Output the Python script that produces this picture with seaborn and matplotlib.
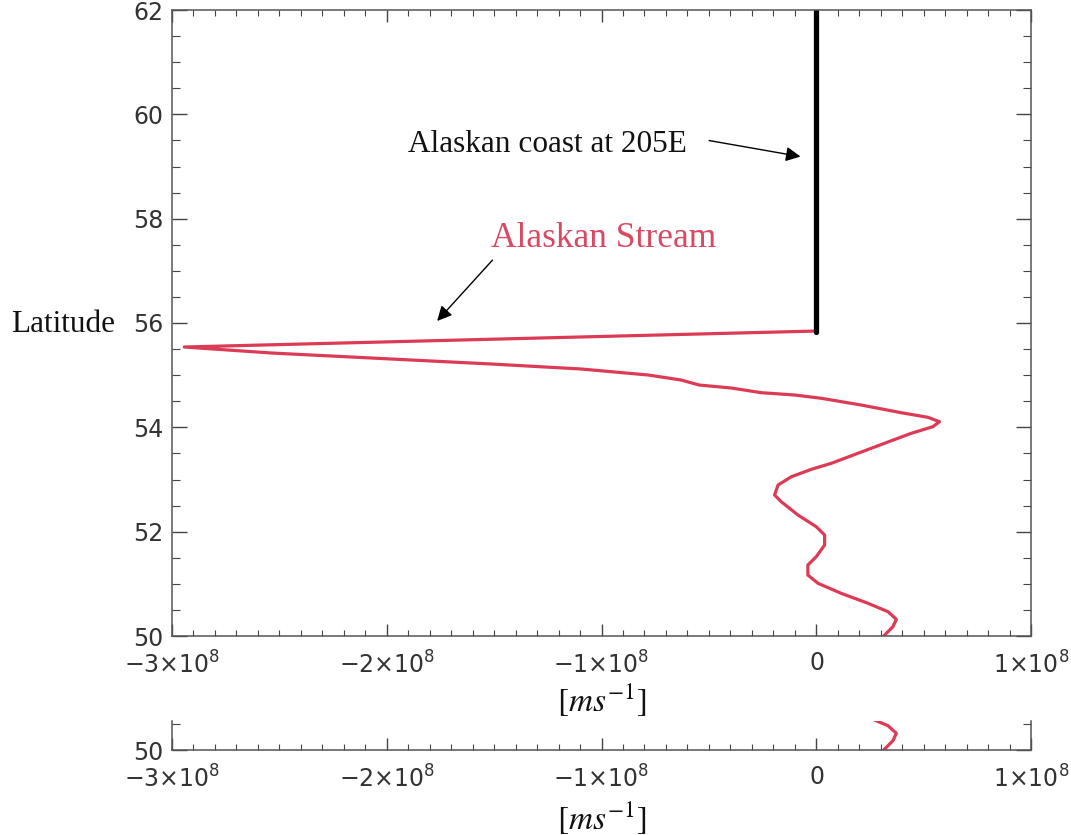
import numpy as np
import matplotlib
matplotlib.use("Agg")
import matplotlib.pyplot as plt
from matplotlib.ticker import MultipleLocator
import seaborn as sns

sns.set_style("ticks", {"xtick.direction": "in", "ytick.direction": "in"})

# velocity profile along 205E, velocity in units of 1e8 m/s
vel = [0.0, -2.943, -2.538, -2.072, -1.513, -1.094, -0.782, -0.629, -0.596, -0.545,
       -0.396, -0.256, -0.101, 0.023, 0.209, 0.396, 0.520, 0.574, 0.543, 0.442,
       0.318, 0.194, 0.070, -0.023, -0.116, -0.178, -0.194, -0.163, -0.085, 0.0,
       0.039, 0.039, 0.0, -0.039, -0.039, 0.008, 0.116, 0.241, 0.334, 0.373,
       0.357, 0.311, 0.303]
lat = [55.846, 55.540, 55.425, 55.329, 55.214, 55.118, 55.003, 54.907, 54.869, 54.811,
       54.754, 54.664, 54.620, 54.557, 54.428, 54.280, 54.192, 54.108, 54.012, 53.885,
       53.694, 53.502, 53.310, 53.195, 53.053, 52.894, 52.703, 52.574, 52.319, 52.095,
       51.936, 51.744, 51.520, 51.361, 51.169, 51.010, 50.818, 50.627, 50.466, 50.320,
       50.178, 49.987, 49.952]

coast_lat = [55.83, 62.0]
coast_vel = [0.0, 0.0]

xticks = [-3e8, -2e8, -1e8, 0, 1e8]
xticklabels = [r"$-3{\times}10^{8}$", r"$-2{\times}10^{8}$", r"$-1{\times}10^{8}$",
               r"$0$", r"$1{\times}10^{8}$"]
yticks = [50, 52, 54, 56, 58, 60, 62]

vel_ms = np.array(vel) * 1e8
red = "#dc3a55"
grey = "#333333"

fig = plt.figure(figsize=(10.71, 8.35), dpi=100)
ax = fig.add_axes([172 / 1071, 1 - 636 / 835, 859 / 1071, 626 / 835])
ax2 = fig.add_axes([172 / 1071, 1 - 750 / 835, 859 / 1071, 29 / 835])


def style_axis(a, top_spine=True):
    a.set_xlim(-3e8, 1e8)
    a.set_xticks(xticks)
    a.set_xticklabels(xticklabels)
    a.xaxis.set_minor_locator(MultipleLocator(0.1e8))
    a.yaxis.set_minor_locator(MultipleLocator(0.5))
    a.tick_params(axis="x", which="major", length=8.5, width=1, top=top_spine,
                  bottom=True, direction="in", labelsize=17, pad=11, colors="#444444",
                  labelcolor=grey)
    a.tick_params(axis="x", which="minor", length=4, width=0.8, top=top_spine,
                  bottom=True, direction="in", colors="#444444")
    a.tick_params(axis="y", which="major", length=11, width=1, left=True, right=True,
                  direction="in", labelsize=17, pad=6, colors="#444444", labelcolor=grey)
    a.tick_params(axis="y", which="minor", length=5.5, width=0.8, left=True, right=True,
                  direction="in", colors="#444444")
    for s in a.spines.values():
        s.set_color("#555555")
        s.set_linewidth(1.1)
    a.spines["top"].set_visible(top_spine)
    a.set_xlabel(r"$[ms^{-1}]$", fontsize=24, math_fontfamily="stix", color="#111111")
    a.set_ylabel("")


# main panel
sns.lineplot(x=vel_ms, y=lat, sort=False, estimator=None, color=red, lw=2.3, ax=ax)
sns.lineplot(x=coast_vel, y=coast_lat, sort=False, estimator=None, color="black",
             lw=3.8, ax=ax)
ax.set_ylim(50, 62)
ax.set_yticks(yticks)
style_axis(ax)
ax.xaxis.set_label_coords(0.5, -0.074)

ax.annotate("", xy=(-0.0605e8, 59.181), xytext=(-0.512e8, 59.507),
            arrowprops=dict(arrowstyle="-|>", color="black", lw=1, mutation_scale=22))
ax.text(-1.900e8, 59.277, "Alaskan coast at 205E", fontsize=22.5,
        family="Liberation Serif", va="baseline", ha="left", color="#111111")
ax.annotate("", xy=(-1.774e8, 55.999), xytext=(-1.499e8, 57.245),
            arrowprops=dict(arrowstyle="-|>", color="black", lw=1, mutation_scale=22))
ax.text(-1.513e8, 57.456, "Alaskan Stream", fontsize=25.5,
        family="Liberation Serif", va="baseline", ha="left", color="#d94a62")

# small bottom panel
sns.lineplot(x=vel_ms, y=lat, sort=False, estimator=None, color=red, lw=2.3, ax=ax2)
ax2.set_ylim(50, 50.556)
ax2.set_yticks([50])
style_axis(ax2, top_spine=False)
ax2.xaxis.set_label_coords(0.5, -1.72)

fig.text(11 / 1071, 1 - 332 / 835, "Latitude", fontsize=22.5,
         family="Liberation Serif", va="baseline", ha="left", color="#111111")

fig.savefig("out.png", dpi=100)
